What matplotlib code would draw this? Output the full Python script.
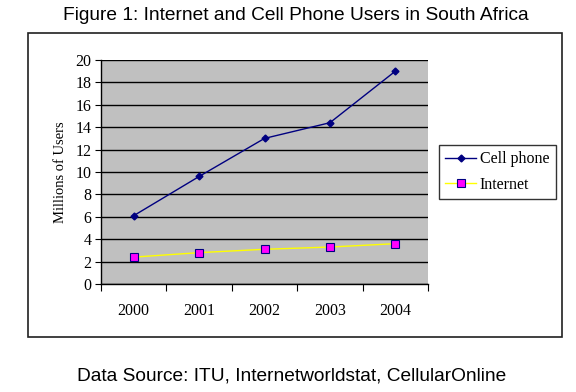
import matplotlib.pyplot as plt
from matplotlib.patches import Rectangle

years = ["2000", "2001", "2002", "2003", "2004"]
cell_phone = [6.1, 9.6, 13.0, 14.4, 19.0]
internet = [2.4, 2.8, 3.1, 3.3, 3.6]
y_ticks = [0, 2, 4, 6, 8, 10, 12, 14, 16, 18, 20]

serif = "Liberation Serif"
sans = "Liberation Sans"

fig = plt.figure(figsize=(5.76, 3.92), dpi=100)
fig.patch.set_facecolor("white")

# outer chart frame
fig.patches.append(Rectangle((28 / 576, 1 - 337 / 392), 534 / 576, 304 / 392,
                             transform=fig.transFigure, fill=False,
                             edgecolor="#202020", linewidth=1.2))

ax = fig.add_axes([101 / 576, 1 - 284 / 392, 327 / 576, 224 / 392])
ax.set_facecolor("#C0C0C0")

x = list(range(len(years)))
ax.plot(x, cell_phone, color="#000080", linewidth=1.0, marker="D",
        markersize=3.5, markerfacecolor="#000080", markeredgecolor="#000080",
        label="Cell phone", zorder=3)
ax.plot(x, internet, color="#FFFF00", linewidth=1.0, marker="s",
        markersize=6, markerfacecolor="#FF00FF", markeredgecolor="#000080",
        markeredgewidth=0.8, label="Internet", zorder=3)

ax.set_ylim(0, 20)
ax.set_yticks(y_ticks)
ax.yaxis.grid(True, color="black", linewidth=1.0)
ax.set_axisbelow(True)

ax.set_xlim(-0.5, len(years) - 0.5)
ax.set_xticks([i - 0.5 for i in range(len(years) + 1)])
ax.set_xticklabels([])
ax.set_xticks(x, minor=True)
ax.set_xticklabels(years, minor=True)
ax.tick_params(axis="x", which="major", length=5, direction="out", color="black")
ax.tick_params(axis="x", which="minor", length=0, pad=14)
ax.tick_params(axis="y", length=4, direction="out", pad=3)

for lbl in ax.get_xticklabels(minor=True) + ax.get_yticklabels():
    lbl.set_family(serif)
    lbl.set_fontsize(11.5)

for side in ["top", "right"]:
    ax.spines[side].set_visible(False)
for side in ["left", "bottom"]:
    ax.spines[side].set_color("black")
    ax.spines[side].set_linewidth(1.0)

ax.set_ylabel("Millions of Users", family=serif, fontsize=10.5, labelpad=6)

leg = ax.legend(loc="upper left", bbox_to_anchor=(439 / 576, 1 - 145 / 392),
                bbox_transform=fig.transFigure, frameon=True, fancybox=False,
                prop={"family": serif, "size": 11.5}, handlelength=1.9,
                borderpad=0.4, labelspacing=0.6, handletextpad=0.25,
                borderaxespad=0)
leg.get_frame().set_edgecolor("black")
leg.get_frame().set_linewidth(1.0)

fig.text(296 / 576, 1 - 15 / 392, "Figure 1: Internet and Cell Phone Users in South Africa",
         ha="center", va="center", family=sans, fontsize=13.8)
fig.text(292 / 576, 1 - 376 / 392, "Data Source: ITU, Internetworldstat, CellularOnline",
         ha="center", va="center", family=sans, fontsize=13.8)

fig.savefig("out.png", dpi=100)
